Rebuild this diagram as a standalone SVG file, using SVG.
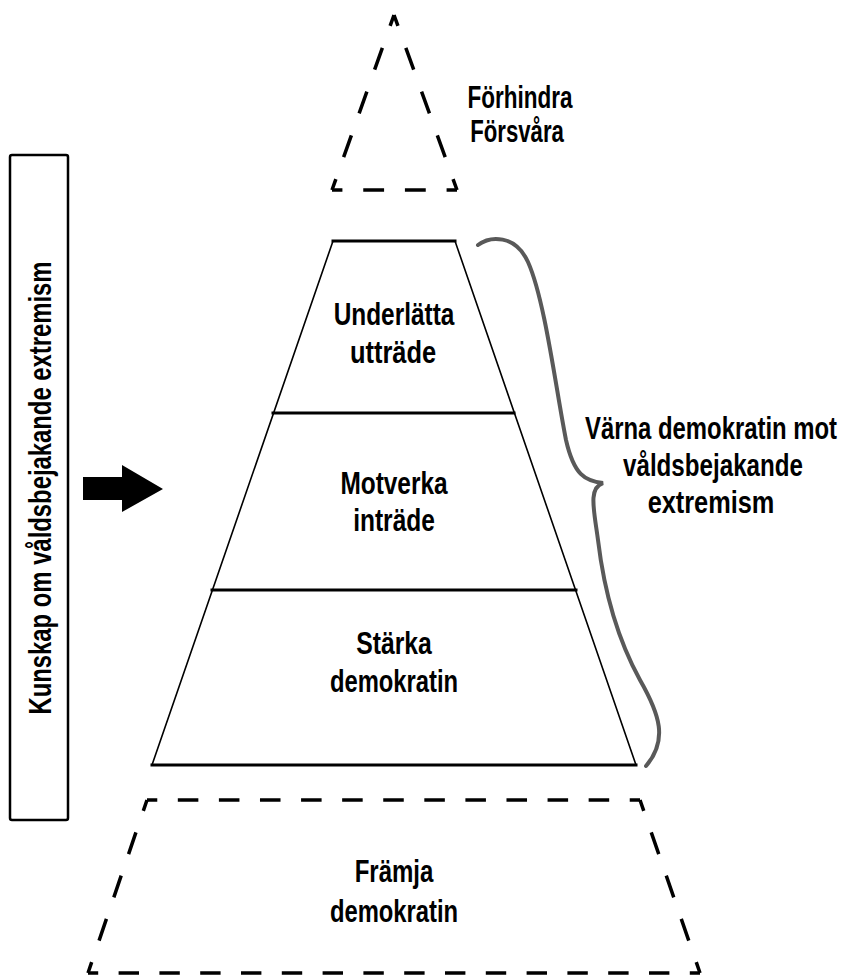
<svg xmlns="http://www.w3.org/2000/svg" width="844" height="976" viewBox="0 0 844 976">
<style>
text{font-family:"Liberation Sans","Arimo",Arial,sans-serif;font-weight:bold;font-size:32px;fill:#000;text-anchor:middle}
.dash{fill:none;stroke:#000;stroke-width:3.5;stroke-dasharray:20 20;stroke-dashoffset:10;stroke-linecap:butt}
.side{fill:none;stroke:#000;stroke-width:1.6}
.hl{stroke:#000;stroke-width:3;stroke-linecap:square}
</style>
<rect width="844" height="976" fill="#fff"/>
<g id="kunskap">
<rect x="10" y="155" width="58" height="665" rx="2" fill="#fff" stroke="#000" stroke-width="2.5"/>
<text transform="translate(51,488) rotate(-90) scale(0.75,1)" textLength="604" lengthAdjust="spacingAndGlyphs">Kunskap om våldsbejakande extremism</text>
</g>
<g id="arrow">
<polygon points="83,477 122,477 122,465 163,489 122,512 122,500 83,500" fill="#000"/>
</g>
<g id="forhindra">
<path class="dash" d="M394,15 L332,190" pathLength="160"/>
<path class="dash" d="M394,15 L457,190" pathLength="160"/>
<path class="dash" d="M332,190 L457,190" pathLength="120"/>
<text transform="translate(520,108) scale(0.75,1)" textLength="140" lengthAdjust="spacingAndGlyphs">Förhindra</text>
<text transform="translate(517,142) scale(0.75,1)" textLength="125" lengthAdjust="spacingAndGlyphs">Försvåra</text>
</g>
<g id="pyramid">
<polygon class="side" points="333,241 455,241 636,765 152,765"/>
</g>
<g id="underlatta">
<line class="hl" x1="333" y1="241" x2="455" y2="241"/>
<text transform="translate(394,325) scale(0.75,1)" textLength="161" lengthAdjust="spacingAndGlyphs">Underlätta</text>
<text transform="translate(393,363) scale(0.75,1)" textLength="115" lengthAdjust="spacingAndGlyphs">utträde</text>
</g>
<g id="motverka">
<line class="hl" x1="273" y1="413" x2="514" y2="413"/>
<text transform="translate(394,494) scale(0.75,1)" textLength="143" lengthAdjust="spacingAndGlyphs">Motverka</text>
<text transform="translate(394,531) scale(0.75,1)" textLength="109" lengthAdjust="spacingAndGlyphs">inträde</text>
</g>
<g id="starka">
<line class="hl" x1="212" y1="590" x2="576" y2="590"/>
<line class="hl" x1="152" y1="765" x2="636" y2="765"/>
<text transform="translate(394,654) scale(0.75,1)" textLength="101" lengthAdjust="spacingAndGlyphs">Stärka</text>
<text transform="translate(394,692) scale(0.75,1)" textLength="171" lengthAdjust="spacingAndGlyphs">demokratin</text>
</g>
<g id="framja">
<path class="dash" d="M147,800 L640,800" pathLength="480"/>
<path class="dash" d="M147,800 L88,973" pathLength="160"/>
<path class="dash" d="M640,800 L700,973" pathLength="160"/>
<path class="dash" d="M88,973 L700,973" pathLength="600"/>
<text transform="translate(394,882) scale(0.75,1)" textLength="105" lengthAdjust="spacingAndGlyphs">Främja</text>
<text transform="translate(394,922) scale(0.75,1)" textLength="171" lengthAdjust="spacingAndGlyphs">demokratin</text>
</g>
<g id="connectors">
<path d="M478,245 C490,236 515,234 528,262 C545,300 556,390 566,440 C574,475 585,481 603,483 C588,488 594,510 598,540 C604,590 618,640 640,680 C660,715 668,740 646,766" fill="none" stroke="#595959" stroke-width="4" stroke-linecap="round"/>
</g>
<g id="varna">
<text transform="translate(711,439) scale(0.75,1)" textLength="336" lengthAdjust="spacingAndGlyphs">Värna demokratin mot</text>
<text transform="translate(713,476) scale(0.75,1)" textLength="240" lengthAdjust="spacingAndGlyphs">våldsbejakande</text>
<text transform="translate(711,513) scale(0.75,1)" textLength="169" lengthAdjust="spacingAndGlyphs">extremism</text>
</g>
</svg>
